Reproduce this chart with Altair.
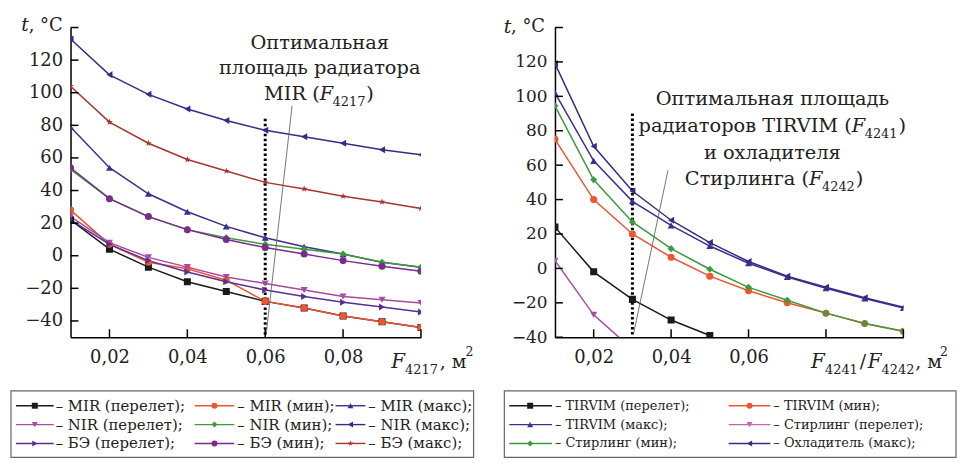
import altair as alt
import pandas as pd

# ---------------- data ----------------
X_VALUES = [0.01, 0.02, 0.03, 0.04, 0.05, 0.06, 0.07, 0.08, 0.09, 0.10]

# left panel: MIR / NIR / БЭ
LEFT_NAMES = ["MIR (перелет)", "MIR (мин)", "MIR (макс)",
              "NIR (перелет)", "NIR (мин)", "NIR (макс)",
              "БЭ (перелет)", "БЭ (мин)", "БЭ (макс)"]
MIR_PER = [22, 4, -7, -16, -22, -28, -32, -37, -40.5, -44]
MIR_MIN = [28, 7, -4, -8, -15, -28, -32, -37, -40.5, -44]
MIR_MAX = [79, 54, 38, 27, 18, 11, 5.5, 1, -4, -7]
NIR_PER = [24, 8, -1, -7, -13, -17, -21, -25, -27, -29]
NIR_MIN = [53, 35, 24, 16, 11, 7, 4, 1, -4, -7]
NIR_MAX = [133, 111, 99, 90, 83, 77, 73, 69, 65, 62]
BE_PER = [22, 7, -3, -10, -16, -21, -25, -28.5, -31.5, -34.5]
BE_MIN = [54, 35, 24, 16, 10, 5, 1, -3, -6.5, -9.5]
BE_MAX = [104, 82, 69, 59, 52, 45, 41, 36.5, 33, 29]
LEFT_SERIES = [MIR_PER, MIR_MIN, MIR_MAX, NIR_PER, NIR_MIN, NIR_MAX, BE_PER, BE_MIN, BE_MAX]

# right panel: TIRVIM / Стирлинг / Охладитель
RIGHT_NAMES = ["TIRVIM (перелет)", "TIRVIM (мин)", "TIRVIM (макс)",
               "Стирлинг (перелет)", "Стирлинг (мин)", "Охладитель (макс)"]
TIRVIM_PER = [24, -2, -18, -30, -39]
TIRVIM_MIN = [75, 40, 20, 6.5, -4.5, -13, -20, -26, -32, -36.5]
TIRVIM_MAX = [102, 62.5, 39, 25, 13, 3, -5, -11.5, -17.5, -23]
STIR_PER = [4.5, -27, -47]
STIR_MIN = [94.5, 51.5, 27, 11.5, -0.5, -11, -18.5, -26, -32, -36.5]
COOL_MAX = [119, 71, 45, 28, 15, 4, -4.5, -11, -17, -22.5]
RIGHT_SERIES = [TIRVIM_PER, TIRVIM_MIN, TIRVIM_MAX, STIR_PER, STIR_MIN, COOL_MAX]

# axes
Y_LABELS = [-40, -20, 0, 20, 40, 60, 80, 100, 120]
Y_TICKS = [-40, -20, 0, 20, 40, 60, 80, 100, 120, 140]
X_TICKS = [0.02, 0.04, 0.06, 0.08, 0.10]
X_LABELS_LEFT = [0.02, 0.04, 0.06, 0.08]
X_LABELS_RIGHT = [0.02, 0.04, 0.06]

# optimum markers
OPT_LEFT = {"x": 0.06, "y1": 84, "y2": -50}
LEAD_LEFT = {"x": 0.0603, "y": -47, "x2": 0.0669, "y2": 92}
OPT_RIGHT = {"x": 0.03, "y1": 90, "y2": -40}
LEAD_RIGHT = {"x": 0.0303, "y": -38, "x2": 0.0392, "y2": 57}

# ---------------- styles ----------------
STAR = ("M0,-1L0.2245,-0.309L0.951,-0.309L0.363,0.118L0.588,0.809L0,0.382"
        "L-0.588,0.809L-0.363,0.118L-0.951,-0.309L-0.2245,-0.309Z")
LEFT_COLORS = ["#1a1a1a", "#ef5530", "#3d2f90", "#aa4aa0", "#3d9a3d",
               "#3a2a88", "#5a2f95", "#7b2b8e", "#a8352c"]
LEFT_SHAPES = ["square", "circle", "triangle-up", "triangle-down", "diamond",
               "triangle-left", "triangle-right", "circle", STAR]
RIGHT_COLORS = ["#1a1a1a", "#ef5530", "#3d2f90", "#c263b6", "#3d9a3d", "#3a2a88"]
RIGHT_SHAPES = ["square", "circle", "triangle-up", "triangle-down", "diamond",
                "triangle-left"]

FONT = "DejaVu Serif"
TXT = "#222222"
ONE = pd.DataFrame({"a": [0]})
H = 312


def txt(text, x, y, size, align="left", baseline="alphabetic", style="normal"):
    return alt.Chart(ONE).mark_text(
        text=text, font=FONT, fontSize=size, align=align, baseline=baseline,
        fontStyle=style, color=TXT
    ).encode(x=alt.value(x), y=alt.value(y))


def panel(names, series, colors, shapes, width, ydom, xlabels, opt, lead,
          xsize, ysize, legend_cols, legend_layout, legend_font, texts):
    rows = []
    for n, vals in zip(names, series):
        for xv, yv in zip(X_VALUES, vals):
            rows.append({"x": xv, "t": yv, "series": n})
    df = pd.DataFrame(rows)
    xs = alt.Scale(domain=[0.01, 0.10], nice=False, zero=False)
    ys = alt.Scale(domain=ydom, nice=False, zero=False)
    lbl_expr = "replace(format(datum.value, '.2f'), '.', ',')"
    xaxis = alt.Axis(values=xlabels, labelExpr=lbl_expr, title=None, ticks=False,
                     tickSize=0, labelPadding=11, labelFontSize=xsize, grid=False,
                     labelOverlap=False, labelFont=FONT)
    yaxis = alt.Axis(values=Y_LABELS, title=None, ticks=False, tickSize=0,
                     labelPadding=8, labelFontSize=ysize, grid=False,
                     labelOverlap=False, labelFont=FONT)

    def X(f):
        return alt.X(f, scale=xs, axis=xaxis)

    def Y(f):
        return alt.Y(f, scale=ys, axis=yaxis)

    color = alt.Color("series:N", scale=alt.Scale(domain=names, range=colors), legend=None)
    shape = alt.Shape("series:N", scale=alt.Scale(domain=names, range=shapes), legend=None)

    lines = alt.Chart(df).mark_line(strokeWidth=1.5, clip=True).encode(
        x=X("x:Q"), y=Y("t:Q"), color=color, detail="series:N", order=alt.Order("x:Q"))
    pts = alt.Chart(df).mark_point(filled=True, size=50, opacity=1, clip=True).encode(
        x=X("x:Q"), y=Y("t:Q"), color=color, shape=shape)

    yt = alt.Chart(pd.DataFrame({"t": Y_TICKS})).mark_rule(color="black", strokeWidth=1.5).encode(
        y=Y("t:Q"), x=alt.value(0), x2=alt.value(8))
    xt = alt.Chart(pd.DataFrame({"x": X_TICKS})).mark_rule(color="black", strokeWidth=1.5).encode(
        x=X("x:Q"), y=alt.value(H), y2=alt.value(H - 8))

    optl = alt.Chart(pd.DataFrame([opt])).mark_rule(
        color="black", strokeWidth=3, strokeDash=[2.5, 2.5]).encode(
        x=X("x:Q"), y=Y("y1:Q"), y2="y2:Q")
    leadl = alt.Chart(pd.DataFrame([lead])).mark_rule(color="#666666", strokeWidth=0.9).encode(
        x=X("x:Q"), y=Y("y:Q"), x2="x2:Q", y2="y2:Q")

    layers = [lines, optl, leadl, pts, yt, xt]

    # legend (drawn as decoration)
    box, col_x, row_y = legend_layout
    layers.append(alt.Chart(ONE).mark_rect(
        fill="white", fillOpacity=0, stroke="#666666", strokeWidth=1.2).encode(
        x=alt.value(box[0]), x2=alt.value(box[1]), y=alt.value(box[2]), y2=alt.value(box[3])))
    for i, (n, c, s) in enumerate(zip(names, colors, shapes)):
        r, k = divmod(i, legend_cols)
        x0, x1, xm, xtx = col_x[k]
        yy = row_y[r]
        layers.append(alt.Chart(ONE).mark_rule(color=c, strokeWidth=1.4).encode(
            x=alt.value(x0), x2=alt.value(x1), y=alt.value(yy)))
        layers.append(alt.Chart(ONE).mark_point(
            shape=s, filled=True, size=36, color=c, opacity=1).encode(
            x=alt.value(xm), y=alt.value(yy)))
        layers.append(txt("\u2013 " + n + ";", xtx, yy, legend_font, baseline="middle"))

    for t in texts:
        layers.append(txt(*t[:4], **t[4]))

    return alt.layer(*layers).properties(width=width, height=H)


left_texts = [
    (", °C", -8, -2, 18, {"align": "right", "baseline": "middle"}),
    ("t", -42, -2, 19, {"align": "right", "baseline": "middle", "style": "italic"}),
    ("Оптимальная", 251, 22, 19.5, {"align": "center"}),
    ("площадь радиатора", 251, 47, 19.5, {"align": "center"}),
    ("MIR (", 251, 73, 19.5, {"align": "right"}),
    ("F", 251, 73, 19.5, {"style": "italic"}),
    ("4217", 264, 79, 13, {}),
    (")", 298, 73, 19.5, {}),
    ("F", 323, 343, 20, {"style": "italic"}),
    ("4217", 337, 349, 13, {}),
    (", м", 372, 343, 19, {}),
    ("2", 398, 331, 12.5, {}),
]
right_texts = [
    (", °C", -10, 0, 18, {"align": "right", "baseline": "middle"}),
    ("t", -44, 0, 19, {"align": "right", "baseline": "middle", "style": "italic"}),
    ("Оптимальная площадь", 219, 78, 19.5, {"align": "center"}),
    ("радиаторов TIRVIM (", 299, 105, 19.5, {"align": "right"}),
    ("F", 299, 105, 19.5, {"style": "italic"}),
    ("4241", 312, 111, 13, {}),
    (")", 346, 105, 19.5, {}),
    ("и охладителя", 219, 132, 19.5, {"align": "center"}),
    ("Стирлинга (", 256, 159, 19.5, {"align": "right"}),
    ("F", 256, 159, 19.5, {"style": "italic"}),
    ("4242", 269, 165, 13, {}),
    (")", 303, 159, 19.5, {}),
    ("F", 258, 343, 20, {"style": "italic"}),
    ("4241", 272, 349, 13, {}),
    ("/", 307, 343, 19, {}),
    ("F", 315, 343, 20, {"style": "italic"}),
    ("4242", 329, 349, 13, {}),
    (", м", 363, 343, 19, {}),
    ("2", 388, 331, 12.5, {}),
]

left_legend = ((-60, 406, 366, 433),
               [(-55, -17, -36, -15), (125, 165, 145, 168), (267, 297, 282, 300)],
               [381, 400, 419])
right_legend = ((-51, 404, 366, 433),
                [(-46, -3, -25, 0), (175, 217, 196, 220)],
                [381, 400, 419])

left = panel(LEFT_NAMES, LEFT_SERIES, LEFT_COLORS, LEFT_SHAPES, 353, [-50, 140],
             X_LABELS_LEFT, OPT_LEFT, LEAD_LEFT, 18, 18, 3, left_legend, 15, left_texts)
right = panel(RIGHT_NAMES, RIGHT_SERIES, RIGHT_COLORS, RIGHT_SHAPES, 351, [-40, 140],
              X_LABELS_RIGHT, OPT_RIGHT, LEAD_RIGHT, 18, 17, 2, right_legend, 13, right_texts)

chart = alt.hconcat(left, right, spacing=135, bounds="flush").properties(
    padding={"left": 2, "top": 7, "right": 0, "bottom": 0}
).configure_view(strokeWidth=0).configure_axis(
    labelFont=FONT, labelColor=TXT, domainColor="black", domainWidth=1.5,
    labelOverlap=False
)

chart.save("out.html", embed_options={"renderer": "svg", "actions": False})
